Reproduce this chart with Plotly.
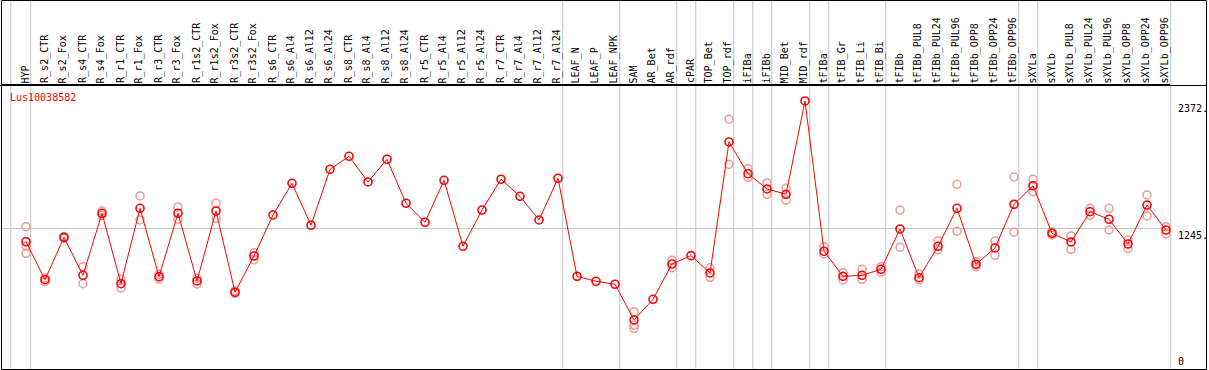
import plotly.graph_objects as go

categories = [
    "HYP", "R_s2_CTR", "R_s2_Fox", "R_s4_CTR", "R_s4_Fox", "R_r1_CTR", "R_r1_Fox",
    "R_r3_CTR", "R_r3_Fox", "R_r1s2_CTR", "R_r1s2_Fox", "R_r3s2_CTR", "R_r3s2_Fox",
    "R_s6_CTR", "R_s6_Al4", "R_s6_Al12", "R_s6_Al24", "R_s8_CTR", "R_s8_Al4",
    "R_s8_Al12", "R_s8_Al24", "R_r5_CTR", "R_r5_Al4", "R_r5_Al12", "R_r5_Al24",
    "R_r7_CTR", "R_r7_Al4", "R_r7_Al12", "R_r7_Al24", "LEAF_N", "LEAF_P", "LEAF_NPK",
    "SAM", "AR_Bet", "AR_rdf", "cPAR", "TOP_Bet", "TOP_rdf", "iFIBa", "iFIBb",
    "MID_Bet", "MID_rdf", "tFIBa", "tFIB_Gr", "tFIB_Li", "tFIB_Bi", "tFIBb",
    "tFIBb_PUL8", "tFIBb_PUL24", "tFIBb_PUL96", "tFIBb_OPP8", "tFIBb_OPP24",
    "tFIBb_OPP96", "sXYLa", "sXYLb", "sXYLb_PUL8", "sXYLb_PUL24", "sXYLb_PUL96",
    "sXYLb_OPP8", "sXYLb_OPP24", "sXYLb_OPP96",
]

means = [
    1126, 790, 1165, 829, 1378, 755, 1422, 817, 1378, 779, 1398, 679, 1000,
    1363, 1643, 1272, 1767, 1882, 1655, 1856, 1466, 1298, 1670, 1086, 1407,
    1679, 1528, 1319, 1688, 820, 776, 750,
    434, 617, 929, 1003, 850, 2009, 1728, 1593, 1546, 2372,
    1042, 820, 829, 882, 1239, 808, 1086, 1422, 926, 1071, 1457,
    1622, 1201, 1124, 1392, 1325, 1106, 1451, 1230,
]

rep_a = [
    1259, 773, 1158, 905, 1398, 717, 1531, 838, 1434, 803, 1469, 693, 1029,
    None, None, None, None, None, None, None, None, None, None, None, None,
    None, None, None, None, None, None, None,
    507, None, 962, None, 896, 2210, 1772, 1646, 1599, None,
    1082, 852, 882, 905, 1407, 841, 1133, 1634, 950, 1133, 1699,
    1679, 1215, 1177, 1422, 1422, 1142, 1540, 1259,
]

rep_b = [
    1088, 805, 1172, 755, 1360, 794, 1319, 796, 1325, 752, 1334, 670, 965,
    None, None, None, None, None, None, None, None, None, None, None, None,
    None, None, None, None, None, None, None,
    389, None, 896, None, 811, 1811, 1696, 1546, 1495, None,
    1018, 788, 794, 858, 1077, 788, 1053, 1219, 905, 1006, 1210,
    1569, 1186, 1059, 1360, 1230, 1065, 1354, 1197,
]

rep_c = [1024] + [None] * 31 + [360] + [None] * 28

group_ends = [0, 28, 31, 34, 35, 37, 38, 39, 41, 42, 45, 52, 53, 60]
first_sep = -0.8

y_tick_values = [2372, 1245, 0]
y_tick_labels = ["2372.", "1245.", "0"]
grid_value = 1245
gene = "Lus10038582"

W, H = 1209, 370
L, R, T, B = 1, 39, 85, 1
XMIN, XMAX = -1.316, 60.21
YMAX = 2513
PW = W - L - R
PH = H - T - B

FONT = "DejaVu Sans Mono"
RED = "#ff0000"
PINK = "#ee9a9a"
GRAY = "#c4c4c4"

idx = list(range(len(categories)))


def px_to_paper_x(px):
    return (px - L) / PW


def px_to_paper_y(py):
    return (H - B - py) / PH


def cat_to_paper_x(v):
    return (v - XMIN) / (XMAX - XMIN)


fig = go.Figure()

rx, ry = [], []
for reps in (rep_a, rep_b, rep_c):
    for i, v in enumerate(reps):
        if v is not None:
            rx.append(i)
            ry.append(v)

fig.add_trace(go.Scatter(
    x=rx, y=ry, mode="markers",
    marker=dict(symbol="circle-open", size=8, color=PINK, line=dict(width=1.5, color=PINK)),
    showlegend=False, hoverinfo="skip", cliponaxis=False,
))

fig.add_trace(go.Scatter(
    x=idx, y=means, mode="lines+markers",
    line=dict(color=RED, width=1),
    marker=dict(symbol="circle-open", size=8, color=RED, line=dict(width=1.6, color=RED)),
    showlegend=False, cliponaxis=False,
))

shapes = []
sep_positions = [first_sep] + [g + 0.25 for g in group_ends]
for s in sep_positions:
    xp = cat_to_paper_x(s)
    shapes.append(dict(type="line", xref="paper", yref="paper",
                       x0=xp, x1=xp, y0=px_to_paper_y(369), y1=px_to_paper_y(0),
                       line=dict(color=GRAY, width=1), layer="below"))

# outer frame
shapes.append(dict(type="rect", xref="paper", yref="paper",
                   x0=px_to_paper_x(1.5), x1=px_to_paper_x(1206.5),
                   y0=px_to_paper_y(369.5), y1=px_to_paper_y(0.5),
                   line=dict(color="#000000", width=1), fillcolor="rgba(0,0,0,0)",
                   layer="above"))
# header separator (also across y-label column)
shapes.append(dict(type="rect", xref="paper", yref="paper",
                   x0=px_to_paper_x(0), x1=px_to_paper_x(1207),
                   y0=px_to_paper_y(86), y1=px_to_paper_y(85),
                   line=dict(width=0), fillcolor="#000000",
                   layer="above"))

annotations = []
for i, c in enumerate(categories):
    annotations.append(dict(
        x=i - 0.03, xref="x", y=1.0, yref="paper", text=c, showarrow=False,
        textangle=-90, xanchor="center", yanchor="bottom",
        font=dict(family=FONT, size=10, color="#000000"),
    ))

annotations.append(dict(
    x=px_to_paper_x(8), xref="paper", y=px_to_paper_y(97), yref="paper",
    text=gene, showarrow=False, xanchor="left", yanchor="middle",
    font=dict(family=FONT, size=10, color=RED),
))

for v, lab in zip(y_tick_values, y_tick_labels):
    annotations.append(dict(
        x=px_to_paper_x(1176), xref="paper", y=v, yref="y",
        text=lab, showarrow=False, xanchor="left",
        yanchor="bottom" if v == 0 else "top",
        font=dict(family=FONT, size=10, color="#000000"),
    ))

fig.update_layout(
    width=W, height=H,
    margin=dict(l=L, r=R, t=T, b=B, pad=0),
    paper_bgcolor="#ffffff", plot_bgcolor="rgba(0,0,0,0)",
    xaxis=dict(range=[XMIN, XMAX], showgrid=False, zeroline=False,
               showticklabels=False, ticks="", showline=True, linecolor="#000000",
               linewidth=1, mirror=True, fixedrange=True),
    yaxis=dict(range=[0, YMAX], tickvals=[grid_value], showgrid=True, gridcolor=GRAY,
               gridwidth=1, zeroline=False, showticklabels=False, ticks="",
               showline=False, fixedrange=True),
    shapes=shapes, annotations=annotations,
    showlegend=False,
)

fig.write_html(
    "out.html",
    config={"displayModeBar": False, "staticPlot": True},
    post_script="document.body.style.margin='0';document.body.style.overflow='hidden';",
)
